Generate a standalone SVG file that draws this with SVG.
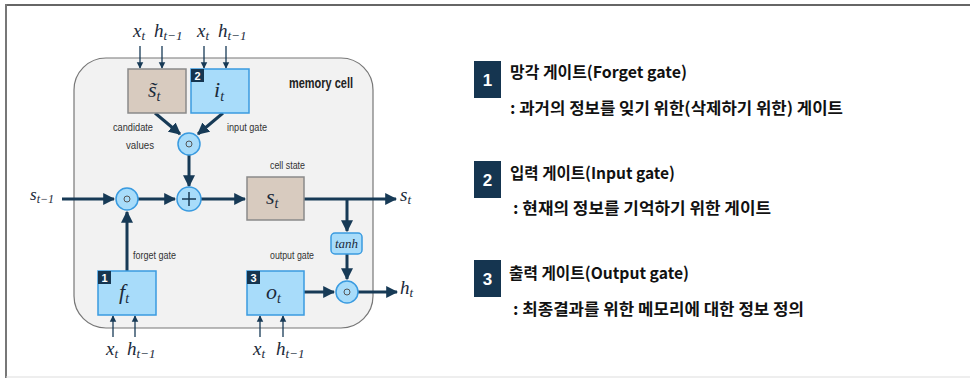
<svg xmlns="http://www.w3.org/2000/svg" width="970" height="378" viewBox="0 0 970 378">
<defs>
<marker id="ah" viewBox="0 0 10 10" refX="9" refY="5" markerWidth="4" markerHeight="4" orient="auto" markerUnits="strokeWidth"><path d="M0,0 L10,5 L0,10 z" fill="#173a56"/></marker>
<marker id="ahs" viewBox="0 0 10 10" refX="9" refY="5" markerWidth="5" markerHeight="6" orient="auto" markerUnits="strokeWidth"><path d="M0,0 L10,5 L0,10 z" fill="#173a56"/></marker>
</defs>
<style>
.m{font-family:"Liberation Serif","DejaVu Serif",serif;font-style:italic;fill:#1b2a3a}
.lbl{font-family:"Liberation Sans",sans-serif;font-size:10px;fill:#333}
.tan{fill:#d8cbbf;stroke:#8a8a8a;stroke-width:1.5}
.blu{fill:#a8dcfa;stroke:#3a9be0;stroke-width:1.5}
.badge{fill:#153550}
.bn{font-family:"Liberation Sans",sans-serif;font-weight:bold;fill:#fff;text-anchor:middle}
.main{stroke:#173a56;stroke-width:3;fill:none}
.thin{stroke:#173a56;stroke-width:1.3;fill:none}
.op{fill:#a8dcfa;stroke:#3a9be0;stroke-width:1.5}
.kr{font-family:"Noto Sans CJK KR","Liberation Sans",sans-serif;fill:#111}
</style>
<rect x="0" y="0" width="970" height="378" fill="#fff"/>
<line x1="6" y1="5" x2="970" y2="5" stroke="#666" stroke-width="2"/>
<line x1="6" y1="4" x2="6" y2="378" stroke="#777" stroke-width="2"/>
<line x1="6" y1="377" x2="970" y2="377" stroke="#ddd" stroke-width="1"/>

<g id="memory-cell">
<rect x="74" y="58" width="299" height="270" rx="32" fill="#f2f2f2" stroke="#777" stroke-width="1.2"/>
<text x="289" y="88" font-family="Liberation Sans,sans-serif" font-size="14" font-weight="bold" fill="#222" textLength="64" lengthAdjust="spacingAndGlyphs">memory cell</text>
</g>

<g id="connectors">
<line class="thin" x1="140" y1="46" x2="140" y2="68" marker-end="url(#ahs)"/>
<line class="thin" x1="162" y1="46" x2="162" y2="68" marker-end="url(#ahs)"/>
<line class="thin" x1="204" y1="46" x2="204" y2="68" marker-end="url(#ahs)"/>
<line class="thin" x1="226" y1="46" x2="226" y2="68" marker-end="url(#ahs)"/>
<line class="main" x1="155" y1="113" x2="180" y2="134" marker-end="url(#ah)"/>
<line class="main" x1="223" y1="113" x2="198" y2="134" marker-end="url(#ah)"/>
<line class="main" x1="189" y1="155" x2="189" y2="186" marker-end="url(#ah)"/>
<line class="main" x1="62" y1="199" x2="114" y2="199" marker-end="url(#ah)"/>
<line class="main" x1="138" y1="199" x2="175" y2="199" marker-end="url(#ah)"/>
<line class="main" x1="201" y1="199" x2="245" y2="199" marker-end="url(#ah)"/>
<line class="main" x1="304" y1="199" x2="396" y2="199" marker-end="url(#ah)"/>
<line class="main" x1="347" y1="199" x2="347" y2="231" marker-end="url(#ah)"/>
<line class="main" x1="347" y1="254" x2="347" y2="279" marker-end="url(#ah)"/>
<line class="main" x1="127" y1="271" x2="127" y2="212" marker-end="url(#ah)"/>
<line class="main" x1="304" y1="292" x2="334" y2="292" marker-end="url(#ah)"/>
<line class="main" x1="358" y1="292" x2="397" y2="292" marker-end="url(#ah)"/>
<line class="thin" x1="113" y1="337" x2="113" y2="316" marker-end="url(#ahs)"/>
<line class="thin" x1="135" y1="337" x2="135" y2="316" marker-end="url(#ahs)"/>
<line class="thin" x1="260" y1="337" x2="260" y2="316" marker-end="url(#ahs)"/>
<line class="thin" x1="283" y1="337" x2="283" y2="316" marker-end="url(#ahs)"/>
</g>

<g id="input-labels">
<text class="m" x="133" y="37" font-size="19">x<tspan font-size="13" dy="3">t</tspan></text>
<text class="m" x="154" y="37" font-size="19">h<tspan font-size="13" dy="3">t−1</tspan></text>
<text class="m" x="197" y="37" font-size="19">x<tspan font-size="13" dy="3">t</tspan></text>
<text class="m" x="218" y="37" font-size="19">h<tspan font-size="13" dy="3">t−1</tspan></text>
<text class="m" x="106" y="355" font-size="19">x<tspan font-size="13" dy="3">t</tspan></text>
<text class="m" x="127" y="355" font-size="19">h<tspan font-size="13" dy="3">t−1</tspan></text>
<text class="m" x="253" y="355" font-size="19">x<tspan font-size="13" dy="3">t</tspan></text>
<text class="m" x="276" y="355" font-size="19">h<tspan font-size="13" dy="3">t−1</tspan></text>
<text class="m" x="30" y="200" font-size="17">s<tspan font-size="12" dy="3">t−1</tspan></text>
<text class="m" x="400" y="201" font-size="19">s<tspan font-size="13" dy="3">t</tspan></text>
<text class="m" x="400" y="294" font-size="19">h<tspan font-size="13" dy="3">t</tspan></text>
</g>

<g id="candidate">
<rect class="tan" x="128" y="69" width="58" height="44"/>
<text class="m" x="148" y="97" font-size="22">s&#771;<tspan font-size="14" dy="4">t</tspan></text>
<text class="lbl" x="113" y="131" textLength="40" lengthAdjust="spacingAndGlyphs">candidate</text>
<text class="lbl" x="126" y="149" textLength="28" lengthAdjust="spacingAndGlyphs">values</text>
</g>

<g id="input-gate">
<rect class="blu" x="191" y="69" width="58" height="44"/>
<rect class="badge" x="191" y="69" width="13" height="13"/>
<text class="bn" x="197.5" y="80" font-size="11">2</text>
<text class="m" x="214" y="97" font-size="22">i<tspan font-size="14" dy="4">t</tspan></text>
<text class="lbl" x="227" y="131" textLength="40" lengthAdjust="spacingAndGlyphs">input gate</text>
</g>

<g id="mult-input">
<circle class="op" cx="189" cy="144" r="11"/>
<circle cx="189" cy="144" r="3" fill="none" stroke="#555" stroke-width="1"/>
</g>

<g id="add">
<circle class="op" cx="189" cy="199" r="12"/>
<path d="M182,199 H196 M189,192 V206" stroke="#173a56" stroke-width="1.5"/>
</g>

<g id="mult-forget">
<circle class="op" cx="127" cy="199" r="11"/>
<circle cx="127" cy="199" r="3" fill="none" stroke="#555" stroke-width="1"/>
</g>

<g id="cell-state">
<rect class="tan" x="247" y="177" width="57" height="43"/>
<text class="m" x="266" y="204" font-size="22">s<tspan font-size="14" dy="4">t</tspan></text>
<text class="lbl" x="270" y="169" textLength="35" lengthAdjust="spacingAndGlyphs">cell state</text>
</g>

<g id="tanh">
<rect class="blu" x="331" y="233" width="31" height="21" rx="4"/>
<text class="m" x="346.5" y="248" font-size="13" text-anchor="middle">tanh</text>
</g>

<g id="mult-output">
<circle class="op" cx="347" cy="292" r="11"/>
<circle cx="347" cy="292" r="3" fill="none" stroke="#555" stroke-width="1"/>
</g>

<g id="forget-gate">
<rect class="blu" x="98" y="271" width="58" height="44"/>
<rect class="badge" x="98" y="271" width="13" height="13"/>
<text class="bn" x="104.5" y="282" font-size="11">1</text>
<text class="m" x="119" y="299" font-size="22">f<tspan font-size="14" dy="4">t</tspan></text>
<text class="lbl" x="133" y="259" textLength="43" lengthAdjust="spacingAndGlyphs">forget gate</text>
</g>

<g id="output-gate">
<rect class="blu" x="247" y="271" width="57" height="44"/>
<rect class="badge" x="247" y="271" width="13" height="13"/>
<text class="bn" x="253.5" y="282" font-size="11">3</text>
<text class="m" x="266" y="299" font-size="22">o<tspan font-size="14" dy="4">t</tspan></text>
<text class="lbl" x="270" y="259" textLength="44" lengthAdjust="spacingAndGlyphs">output gate</text>
</g>

<g id="legend-1">
<rect class="badge" x="474" y="61" width="27" height="37"/>
<text class="bn" x="487.5" y="86" font-size="17">1</text>
<text class="kr" x="510" y="78" font-size="16" font-weight="bold" textLength="177" lengthAdjust="spacingAndGlyphs">망각 게이트(Forget gate)</text>
<text class="kr" x="510" y="114" font-size="16" font-weight="bold" textLength="333" lengthAdjust="spacingAndGlyphs">: 과거의 정보를 잊기 위한(삭제하기 위한) 게이트</text>
</g>
<g id="legend-2">
<rect class="badge" x="474" y="161" width="27" height="37"/>
<text class="bn" x="487.5" y="186" font-size="17">2</text>
<text class="kr" x="510" y="179" font-size="16" font-weight="bold" textLength="165" lengthAdjust="spacingAndGlyphs">입력 게이트(Input gate)</text>
<text class="kr" x="513" y="214" font-size="16" font-weight="bold" textLength="258" lengthAdjust="spacingAndGlyphs">: 현재의 정보를 기억하기 위한 게이트</text>
</g>
<g id="legend-3">
<rect class="badge" x="474" y="260" width="27" height="37"/>
<text class="bn" x="487.5" y="285" font-size="17">3</text>
<text class="kr" x="509" y="279" font-size="16" font-weight="bold" textLength="180" lengthAdjust="spacingAndGlyphs">출력 게이트(Output gate)</text>
<text class="kr" x="513" y="315" font-size="16" font-weight="bold" textLength="291" lengthAdjust="spacingAndGlyphs">: 최종결과를 위한 메모리에 대한 정보 정의</text>
</g>
</svg>
